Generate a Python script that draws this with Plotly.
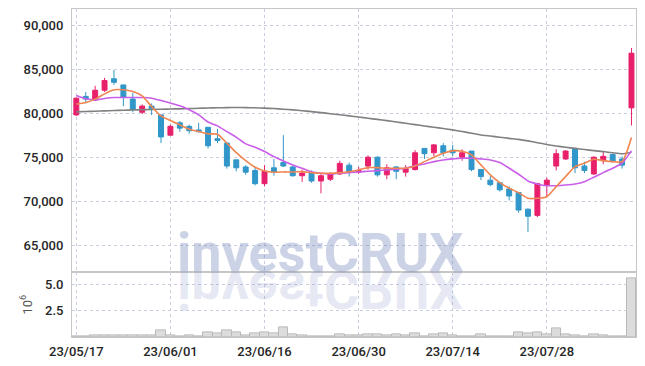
import plotly.graph_objects as go

dates = ["23/05/17","23/05/18","23/05/19","23/05/22","23/05/23","23/05/24","23/05/25","23/05/26","23/05/30","23/05/31",
         "23/06/01","23/06/02","23/06/05","23/06/07","23/06/08","23/06/09","23/06/12","23/06/13","23/06/14","23/06/15",
         "23/06/16","23/06/19","23/06/20","23/06/21","23/06/22","23/06/23","23/06/26","23/06/27","23/06/28","23/06/29",
         "23/06/30","23/07/03","23/07/04","23/07/05","23/07/06","23/07/07","23/07/10","23/07/11","23/07/12","23/07/13",
         "23/07/14","23/07/17","23/07/18","23/07/19","23/07/20","23/07/21","23/07/24","23/07/25","23/07/26","23/07/27",
         "23/07/28","23/07/31","23/08/01","23/08/02","23/08/03","23/08/04","23/08/07","23/08/08","23/08/09","23/08/10"]

open_ = [79800,81900,81500,82600,83900,83200,81600,80100,80800,79800,
         77500,78900,78500,78100,78400,77100,76600,74700,73900,73500,
         72000,73800,74400,73900,72900,73200,72300,72500,73100,74100,
         73300,74000,75000,73000,73900,73300,73600,76000,75500,76300,
         75800,75000,75700,73600,72400,72100,71400,71000,69100,68400,
         71800,74000,74800,76000,74000,73100,74600,75300,74800,80600]
high = [81800,82400,83100,84000,84900,83200,82300,81000,81100,79800,
        78700,79100,78700,78900,78400,78200,76700,74700,74100,73900,
        74100,74800,77500,74000,73600,73500,73200,73300,74600,74400,
        73900,75200,75100,74200,74000,74100,75800,76000,76500,76600,
        76400,75900,75700,73600,72900,72100,71700,71000,69200,72100,
        72700,75900,75800,76000,74500,75100,75600,75400,75100,87400]
low = [79700,81100,81400,82400,83200,80800,80100,79900,79800,76600,
       77500,77900,77700,77800,76000,76600,73700,73400,73000,71800,
       71700,72900,73900,72800,72200,72100,70900,72300,73000,72800,
       73100,73600,72800,72500,72500,72800,73500,74800,75100,75100,
       75100,74600,73400,72400,71700,71100,70100,68700,66500,68200,
       70500,73500,74700,73200,73200,73000,74200,74400,73700,78600]
close = [81700,81600,82600,83700,83500,81800,80400,80800,80500,77300,
         78500,78300,78000,77900,76300,76900,74000,73800,73300,72000,
         73400,73300,74000,72900,73200,72300,72900,73100,74300,73300,
         73500,75000,73000,73800,73400,73700,75500,75400,76400,75500,
         75500,75500,73600,72800,71900,71300,70600,69000,68300,72000,
         72400,75400,75700,73800,73500,75000,75100,74500,74100,86800]

ma5 = [81020,81200,81590,82190,82650,82650,82450,81970,80750,79690,
       79160,78670,78180,77910,77650,77610,76590,75520,74610,73860,
       73440,73300,73330,73330,73360,73250,73180,73180,73250,73360,
       73560,73820,73820,73750,73750,73750,74010,74500,75000,75450,
       75720,75680,75260,74130,72990,72110,71480,70980,70340,70340,
       70520,71660,72800,73930,74320,74770,74610,74500,74500,77230]
ma20 = [82000,81630,81510,81660,81770,81770,81770,81770,81700,81430,
        81140,80830,80380,79810,79000,78560,77910,77270,76510,76140,
        75640,75070,74580,74130,73750,73360,73180,73100,73180,73250,
        73330,73400,73480,73560,73640,73750,74050,74240,74500,74690,
        74810,74890,74890,74810,74690,74390,73750,73070,72310,71970,
        71770,71770,71850,71970,72230,72730,73250,73750,74320,75720]
ma60 = [80150,80180,80220,80260,80300,80330,80360,80390,80420,80450,
        80470,80490,80520,80550,80580,80610,80630,80640,80630,80610,
        80570,80520,80450,80370,80280,80170,80060,79940,79820,79690,
        79560,79420,79290,79150,79000,78850,78700,78550,78400,78250,
        78100,77920,77720,77530,77400,77270,77140,77020,76850,76650,
        76450,76280,76130,76000,75870,75750,75640,75500,75390,75570]

volume_m = [0.06,0.10,0.13,0.13,0.14,0.13,0.12,0.14,0.13,0.64,
            0.17,0.08,0.13,0.08,0.45,0.35,0.62,0.40,0.17,0.35,
            0.43,0.35,0.90,0.24,0.13,0.10,0.10,0.08,0.24,0.17,
            0.13,0.24,0.24,0.13,0.24,0.13,0.30,0.10,0.25,0.32,
            0.16,0.10,0.10,0.25,0.10,0.10,0.10,0.41,0.32,0.41,
            0.25,0.80,0.25,0.13,0.03,0.22,0.13,0.03,0.03,5.57]

price_ticks = [65000, 70000, 75000, 80000, 85000, 90000]
vol_ticks = [2.5, 5.0]
vol_tick_text = ["2.5", "5.0"]
x_tick_dates = ["23/05/17", "23/06/01", "23/06/16", "23/06/30", "23/07/14", "23/07/28"]
watermark = "investCRUX"

UP = "#e8206b"
DOWN = "#3196c9"
GRID = "#c9cde0"
FRAME = "#c6c6c6"
TICKFONT = dict(family="Roboto", size=13, weight=500, color="#262626")

fig = go.Figure()

fig.add_trace(go.Bar(
    x=dates, y=volume_m, xaxis="x2", yaxis="y2",
    marker=dict(color="#dcdcdc", line=dict(color="#b9b9b9", width=1)),
    showlegend=False, hoverinfo="skip"))

fig.add_trace(go.Candlestick(
    x=dates, open=open_, high=high, low=low, close=close,
    xaxis="x", yaxis="y",
    increasing=dict(line=dict(color=UP, width=1), fillcolor=UP),
    decreasing=dict(line=dict(color=DOWN, width=1), fillcolor=DOWN),
    whiskerwidth=0, showlegend=False))

for vals, col in [(ma60, "#808080"), (ma20, "#c95ee9"), (ma5, "#ef8550")]:
    fig.add_trace(go.Scatter(
        x=dates, y=vals, xaxis="x", yaxis="y", mode="lines",
        line=dict(color=col, width=1.6, shape="spline", smoothing=0.6),
        showlegend=False, hoverinfo="skip"))

xr = [-0.46, 59.48]
common_x = dict(type="category", range=xr, showgrid=True, gridcolor=GRID, griddash="dot",
                gridwidth=1, tickmode="array", tickvals=x_tick_dates, zeroline=False,
                showline=True, linecolor=FRAME, linewidth=1, mirror=True, ticks="")

fig.update_layout(
    width=645, height=366,
    margin=dict(l=72, r=9, t=9, b=29, autoexpand=False),
    paper_bgcolor="white", plot_bgcolor="white",
    bargap=0, boxgap=0.25, showlegend=False,
    xaxis=dict(common_x, anchor="y", showticklabels=False, rangeslider=dict(visible=False)),
    xaxis2=dict(common_x, anchor="y2", matches="x", showticklabels=True,
                tickfont=TICKFONT, ticklabelstandoff=2),
    yaxis=dict(domain=[0.197, 1], range=[61932, 91818], tickvals=price_ticks,
               tickformat=",d", tickfont=TICKFONT, showgrid=True, gridcolor=GRID,
               griddash="dot", zeroline=False, showline=True, linecolor=FRAME,
               mirror=True, ticks="", ticklabelstandoff=5),
    yaxis2=dict(domain=[0, 0.197], range=[0, 6.15], tickvals=vol_ticks, ticktext=vol_tick_text,
                tickfont=TICKFONT, showgrid=True, gridcolor=GRID, griddash="dot",
                zeroline=False, showline=True, linecolor=FRAME, mirror=True, ticks="",
                ticklabelstandoff=5,
                title=dict(text="10<sup>6</sup>", font=dict(family="Roboto", size=13, color="#555"),
                           standoff=9)),
    annotations=[
        dict(text=watermark, xref="paper", yref="paper", x=0.4406, y=0.197,
             xanchor="center", yanchor="bottom", showarrow=False, yshift=-14,
             font=dict(family="Roboto", size=54, weight="bold", color="rgba(100,120,180,0.33)")),
        dict(text=watermark, xref="paper", yref="paper", x=0.4406, y=0.197,
             xanchor="center", yanchor="top", showarrow=False, yshift=16,
             font=dict(family="Roboto", size=54, weight="bold", color="rgba(100,120,180,0.16)")),
    ],
)

post = """
document.documentElement.style.margin='0';
document.body.style.margin='0';
document.body.style.padding='0';
var gd = document.getElementById('{plot_id}');
function flipWM(){
  var t = gd.querySelector('g.annotation[data-index="1"] text');
  if(t){ t.style.transformBox='fill-box'; t.style.transformOrigin='center'; t.style.transform='scaleY(-1)'; }
}
flipWM();
if(gd.on){ gd.on('plotly_afterplot', flipWM); }
"""

fig.write_html("out.html", post_script=post, config={"displayModeBar": False})
